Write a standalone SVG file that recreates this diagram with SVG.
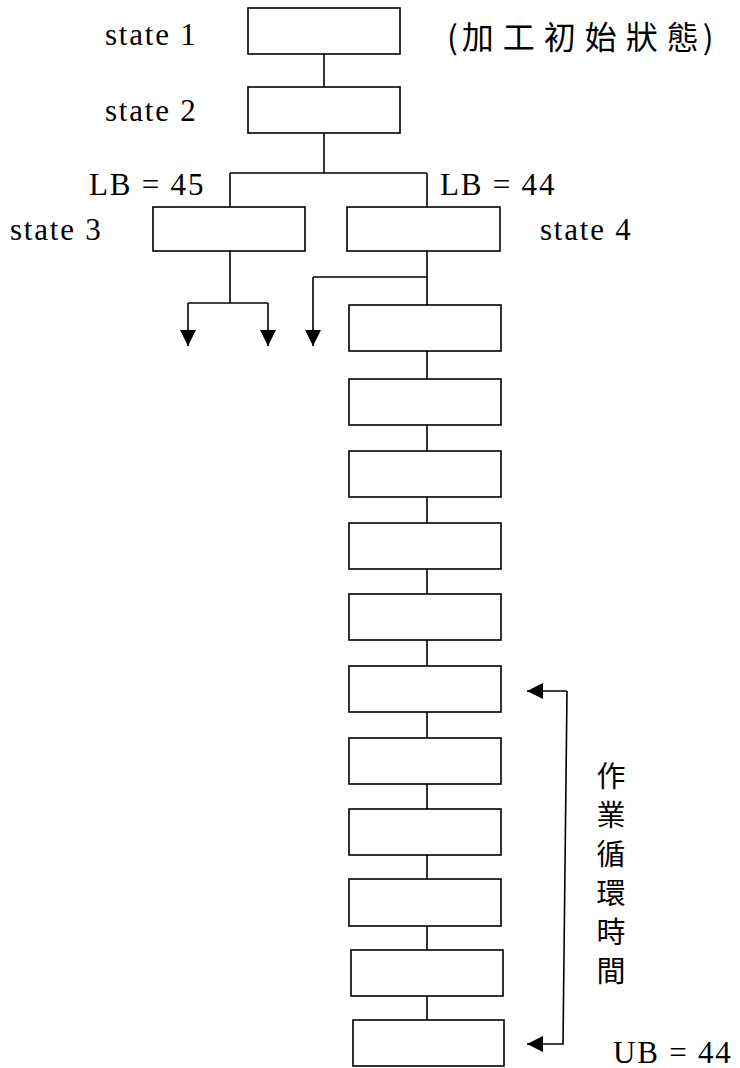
<svg xmlns="http://www.w3.org/2000/svg" width="740" height="1068" viewBox="0 0 740 1068">
  <style>
    .box { fill: #ffffff; stroke: #000000; stroke-width: 1.6; }
    .wire { fill: none; stroke: #000000; stroke-width: 1.6; }
    .lbl { font-family: "Liberation Serif", "Times New Roman", serif; font-size: 31px; fill: #000000; letter-spacing: 1.8px; }
    .cjk { font-family: "Noto Sans CJK TC", "Noto Sans CJK SC", sans-serif; fill: #000000; }
  </style>
  <defs>
    <marker id="tip" viewBox="0 0 16 16" refX="16" refY="8" markerWidth="16" markerHeight="16" markerUnits="userSpaceOnUse" orient="auto">
      <path d="M0,0 L16,8 L0,16 Z" fill="#000000"/>
    </marker>
  </defs>

  <rect width="740" height="1068" fill="#ffffff"/>

  <!-- connectors -->
  <g id="connectors" class="wire">
    <path d="M324,54 V87"/>
    <path d="M324,133 V173 M230,173 H427 M230,173 V207 M427,173 V207"/>
    <!-- state 3 branches -->
    <path d="M230,251 V303 M188,303 H268"/>
    <path d="M188,303 V346" marker-end="url(#tip)"/>
    <path d="M268,303 V346" marker-end="url(#tip)"/>
    <!-- state 4 branches -->
    <path d="M427,251 V305 M427,277 H313"/>
    <path d="M313,277 V346" marker-end="url(#tip)"/>
    <!-- chain links -->
    <path d="M427,351 V379 M427,425 V451 M427,497 V523 M427,569 V594 M427,640 V666 M427,712 V738 M427,784 V809 M427,855 V879 M427,926 V950 M427,996 V1020"/>
    <!-- cycle-time span -->
    <path d="M567,691 H527" marker-end="url(#tip)"/>
    <path d="M567,691 L563,1044 H527" marker-end="url(#tip)"/>
  </g>

  <!-- nodes -->
  <g id="state1"><rect class="box" x="248" y="8" width="152" height="46"/></g>
  <g id="state2"><rect class="box" x="248" y="87" width="152" height="46"/></g>
  <g id="state3"><rect class="box" x="153" y="207" width="152" height="44"/></g>
  <g id="state4"><rect class="box" x="347" y="207" width="153" height="44"/></g>
  <g id="s5"><rect class="box" x="349" y="305" width="152" height="46"/></g>
  <g id="s6"><rect class="box" x="349" y="379" width="152" height="46"/></g>
  <g id="s7"><rect class="box" x="349" y="451" width="152" height="46"/></g>
  <g id="s8"><rect class="box" x="349" y="523" width="152" height="46"/></g>
  <g id="s9"><rect class="box" x="349" y="594" width="152" height="46"/></g>
  <g id="s10"><rect class="box" x="349" y="666" width="152" height="46"/></g>
  <g id="s11"><rect class="box" x="349" y="738" width="152" height="46"/></g>
  <g id="s12"><rect class="box" x="349" y="809" width="152" height="46"/></g>
  <g id="s13"><rect class="box" x="349" y="879" width="152" height="47"/></g>
  <g id="s14"><rect class="box" x="351" y="950" width="152" height="46"/></g>
  <g id="s15"><rect class="box" x="353" y="1020" width="151" height="46"/></g>

  <!-- labels -->
  <g id="labels">
    <text class="lbl" x="105" y="45">state 1</text>
    <text class="lbl" x="105" y="121">state 2</text>
    <text class="lbl" x="89" y="195">LB = 45</text>
    <text class="lbl" x="440" y="195">LB = 44</text>
    <text class="lbl" x="10" y="240">state 3</text>
    <text class="lbl" x="540" y="240">state 4</text>
    <text class="lbl" x="613" y="1063">UB = 44</text>
    <text class="cjk" x="447" y="49" font-size="32"><tspan letter-spacing="4">(</tspan><tspan letter-spacing="9">加工初始狀</tspan><tspan letter-spacing="4">態)</tspan></text>
    <text class="cjk" x="611" y="761" font-size="29" letter-spacing="10" writing-mode="vertical-rl">作業循環時間</text>
  </g>
</svg>
